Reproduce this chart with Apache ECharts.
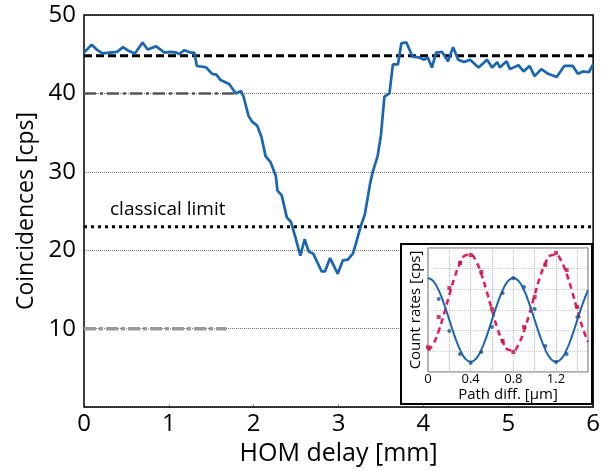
<!DOCTYPE html>
<html>
<head>
<meta charset="utf-8">
<script src="https://cdn.jsdelivr.net/npm/echarts@6/dist/echarts.min.js"></script>
<style>html,body{margin:0;padding:0;background:#fff}#c{width:603px;height:471px}</style>
</head>
<body>
<div id="c"></div>
<script>
// ---- main HOM dip data ----
var homX = [0.0,0.09,0.15,0.22,0.30,0.39,0.46,0.53,0.60,0.69,0.75,0.85,0.95,1.02,1.09,1.12,1.18,1.26,1.30,1.33,1.40,1.44,1.51,1.56,1.61,1.71,1.79,1.81,1.85,1.88,1.94,1.98,2.04,2.09,2.14,2.20,2.26,2.28,2.33,2.39,2.44,2.49,2.55,2.60,2.65,2.70,2.80,2.84,2.90,2.99,3.05,3.11,3.17,3.20,3.26,3.31,3.37,3.40,3.46,3.50,3.54,3.60,3.64,3.70,3.74,3.80,3.87,3.94,4.01,4.05,4.10,4.15,4.22,4.29,4.35,4.41,4.48,4.55,4.65,4.75,4.81,4.87,4.90,4.98,5.02,5.12,5.18,5.25,5.31,5.39,5.47,5.57,5.66,5.76,5.82,5.88,5.95,6.00];
var homY = [45.2,46.2,45.6,45.1,45.2,45.3,45.9,45.4,45.1,46.5,45.6,46.0,45.2,45.3,45.2,45.0,45.5,45.2,45.2,43.5,43.4,43.3,42.5,42.4,41.7,41.2,40.0,39.8,40.3,39.6,37.1,36.4,35.9,34.5,32.0,31.2,29.5,27.6,27.0,24.2,23.6,21.7,19.3,21.4,19.8,19.6,17.3,17.3,19.0,17.0,18.7,18.8,19.6,20.7,23.0,24.6,28.4,29.9,32.0,34.7,39.6,40.0,43.7,43.7,46.4,46.5,44.7,44.6,44.3,44.6,43.3,45.2,45.3,44.1,45.9,44.3,44.0,44.3,43.3,44.3,43.3,44.0,43.3,44.1,43.1,43.6,42.8,43.5,42.2,43.1,42.5,42.1,43.5,43.5,42.5,42.8,42.7,43.7];

// reference levels
var topLevel = 44.8;          // dashed black
var classicalLimit = 23;      // dotted black
var grayLevel40 = 40, grayEnd40 = 1.79;
var grayLevel10 = 10, grayEnd10 = 1.68;

// axes ticks
var xTicks = [0,1,2,3,4,5,6];
var yTicks = [10,20,30,40,50];

// ---- inset data ----
var insetX = [0,0.05,0.1,0.15,0.2,0.25,0.3,0.35,0.4,0.45,0.5,0.55,0.6,0.65,0.7,0.75,0.8,0.85,0.9,0.95,1.0,1.05,1.1,1.15,1.2,1.25,1.3,1.35,1.4,1.45,1.5];
var blueFit = [4.55,4.40,3.96,3.30,2.52,1.74,1.08,0.64,0.49,0.64,1.08,1.74,2.52,3.30,3.96,4.40,4.55,4.40,3.96,3.30,2.52,1.74,1.08,0.64,0.49,0.64,1.08,1.74,2.52,3.30,3.96];
var redFit  = [1.04,1.36,1.98,2.81,3.73,4.59,5.26,5.64,5.68,5.36,4.74,3.91,2.99,2.13,1.46,1.08,1.04,1.36,1.98,2.81,3.73,4.59,5.26,5.64,5.68,5.36,4.74,3.91,2.99,2.13,1.46];
var blueDotX = [0.1,0.2,0.3,0.4,0.5,0.6,0.7,0.8,0.9,1.0,1.1,1.2,1.3,1.4];
var blueDotY = [3.53,1.98,0.87,0.44,0.97,2.18,3.82,4.55,4.11,3.05,1.26,0.48,0.87,2.66];
var redDotX = [0,0.1,0.2,0.3,0.4,0.5,0.6,0.7,0.8,0.9,1.0,1.1,1.2,1.3,1.4];
var redDotY = [1.2,2.66,4.06,5.27,5.66,4.84,3.05,1.5,0.97,2.18,3.63,5.18,5.76,4.93,3.14];

function zip(a,b){return a.map(function(v,i){return [v,b[i]];});}

var FONT = 'Open Sans';
var BLUE = '#1a66b0';
var RED = '#e8175d';

var chart = echarts.init(document.getElementById('c'));
chart.setOption({
  animation:false,
  textStyle:{fontFamily:FONT},
  grid:[
    {left:84,right:6,top:15,bottom:58,show:true,borderColor:'#000',borderWidth:1.5,z:1},
    {left:428,right:15,top:248,bottom:99,show:true,borderColor:'#666',borderWidth:1,backgroundColor:'#fff',z:60}
  ],
  xAxis:[
    {gridIndex:0,type:'value',min:xTicks[0],max:xTicks[xTicks.length-1],interval:1,
     axisLine:{show:false},axisTick:{show:true,inside:true,length:3,lineStyle:{color:'#999'}},
     splitLine:{show:false},
     axisLabel:{fontSize:24,color:'#000',margin:5,fontFamily:FONT},
     name:'HOM delay [mm]',nameLocation:'middle',nameGap:30,
     nameTextStyle:{fontSize:25,color:'#000',fontFamily:FONT}},
    {gridIndex:1,type:'value',min:0,max:1.5,interval:0.2,z:60,
     axisLine:{show:false},axisTick:{show:false},
     splitLine:{show:true,lineStyle:{color:'#bbb',type:'dotted',width:1}},
     axisLabel:{fontSize:13,color:'#000',margin:1,fontFamily:FONT,
       formatter:function(v){var r=v/0.4; if(Math.abs(r-Math.round(r))<1e-6 && v<1.45){return Math.round(r)===0?'0':(Math.round(r)*0.4).toFixed(1);} return '';}},
     name:'Path diff. [\u00b5m]',nameLocation:'middle',nameGap:12,
     nameTextStyle:{fontSize:15,color:'#000',fontFamily:FONT}}
  ],
  yAxis:[
    {gridIndex:0,type:'value',min:0,max:yTicks[yTicks.length-1],interval:10,
     axisLine:{show:false},axisTick:{show:false},
     splitLine:{show:true,lineStyle:{color:'#777',type:'dotted',width:1}},
     axisLabel:{fontSize:24,color:'#000',margin:8,fontFamily:FONT,formatter:function(v){return yTicks.indexOf(v)>=0?String(v):'';}},
     name:'Coincidences [cps]',nameLocation:'middle',nameGap:45,
     nameTextStyle:{fontSize:23,color:'#000',fontFamily:FONT}},
    {gridIndex:1,type:'value',min:0,max:6,interval:1,z:60,
     axisLine:{show:false},axisTick:{show:false},axisLabel:{show:false},
     splitLine:{show:true,lineStyle:{color:'#ccc',type:'dotted',width:1}},
     name:'Count rates [cps]',nameLocation:'middle',nameGap:5,
     nameTextStyle:{fontSize:15,color:'#000',fontFamily:FONT}}
  ],
  graphic:[
    {type:'rect',z:50,shape:{x:401,y:244,width:191,height:160},style:{fill:'#fff',stroke:'#000',lineWidth:2}},
    {type:'text',z:5,left:110,top:200,style:{text:'classical limit',fontSize:19,fontFamily:FONT,fill:'#000'}}
  ],
  series:[
    {type:'line',xAxisIndex:0,yAxisIndex:0,data:[[0,grayLevel10],[grayEnd10,grayLevel10]],symbol:'none',
     lineStyle:{color:'#9a9a9a',width:3.5,type:[12,3,4,3]},z:3},
    {type:'line',xAxisIndex:0,yAxisIndex:0,data:[[0,grayLevel40],[grayEnd40,grayLevel40]],symbol:'none',
     lineStyle:{color:'#555',width:2.5,type:[12,4,3,4]},z:3},
    {type:'line',xAxisIndex:0,yAxisIndex:0,data:[[0,topLevel],[6,topLevel]],symbol:'none',
     lineStyle:{color:'#000',width:3,type:[8,4]},z:4},
    {type:'line',xAxisIndex:0,yAxisIndex:0,data:[[0,classicalLimit],[6,classicalLimit]],symbol:'none',
     lineStyle:{color:'#000',width:3,type:[3,4]},z:4},
    {type:'line',xAxisIndex:0,yAxisIndex:0,data:zip(homX,homY),symbol:'none',
     lineStyle:{color:BLUE,width:2.7},z:5},
    {type:'line',xAxisIndex:1,yAxisIndex:1,data:zip(insetX,redFit),symbol:'none',smooth:true,
     lineStyle:{color:RED,width:2.5,type:[6,4]},z:61},
    {type:'line',xAxisIndex:1,yAxisIndex:1,data:zip(insetX,blueFit),symbol:'none',smooth:true,
     lineStyle:{color:BLUE,width:2},z:62},
    {type:'scatter',xAxisIndex:1,yAxisIndex:1,data:zip(redDotX,redDotY),symbol:'rect',symbolSize:4,
     itemStyle:{color:'#c0103f'},z:63},
    {type:'scatter',xAxisIndex:1,yAxisIndex:1,data:zip(blueDotX,blueDotY),symbol:'circle',symbolSize:4,
     itemStyle:{color:'#1a4f8a'},z:63}
  ]
});
</script>
</body>
</html>
